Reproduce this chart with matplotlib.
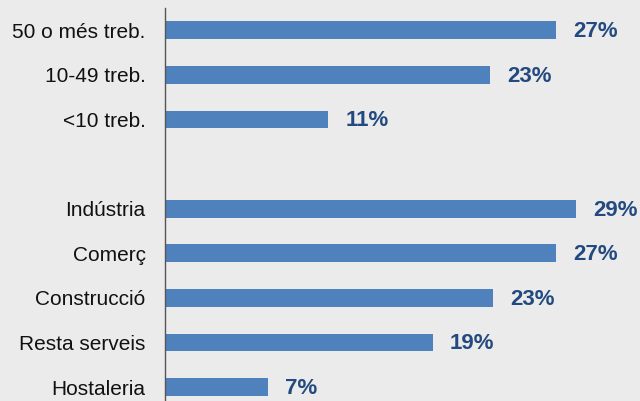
import numpy as np
from matplotlib import pyplot as plt

# --- Data (top to bottom, None = empty slot)
categories = ['50 o més treb.', '10-49 treb.', '<10 treb.', '',
              'Indústria', 'Comerç', 'Construcció', 'Resta serveis', 'Hostaleria']
values = [27.3, 22.7, 11.4, None, 28.7, 27.3, 22.9, 18.7, 7.2]
labels = ['27%', '23%', '11%', '', '29%', '27%', '23%', '19%', '7%']

bg = '#ebebeb'
bar_color = '#4f81bd'
lab_color = '#234a80'

plt.rcParams['font.family'] = ['Liberation Sans', 'DejaVu Sans']

fig = plt.figure(figsize=(6.4, 4.01), dpi=100, facecolor=bg)
ax = fig.add_axes([165 / 640, 0, 1 - 165 / 640, 393 / 401], facecolor=bg)

pos = np.arange(len(categories))
for p, v, lab in zip(pos, values, labels):
    if v is None:
        continue
    ax.barh(p, v, height=0.4, color=bar_color)
    ax.text(v + 1.2, p + 0.03, lab, va='center', ha='left', fontsize=16,
            fontweight='bold', color=lab_color)

ax.set_yticks([p for p, v in zip(pos, values) if v is not None])
ax.set_yticklabels([c for c, v in zip(categories, values) if v is not None],
                   fontsize=15, color='#111111')
ax.tick_params(axis='y', length=0, pad=14)
ax.set_xticks([])
ax.set_xlim(0, 33.2)
ax.set_ylim(8.31, -0.5)

for s in ['top', 'right', 'bottom']:
    ax.spines[s].set_visible(False)
ax.spines['left'].set_color('#555555')
ax.spines['left'].set_linewidth(1)

fig.savefig('out.png', dpi=100, facecolor=bg)
